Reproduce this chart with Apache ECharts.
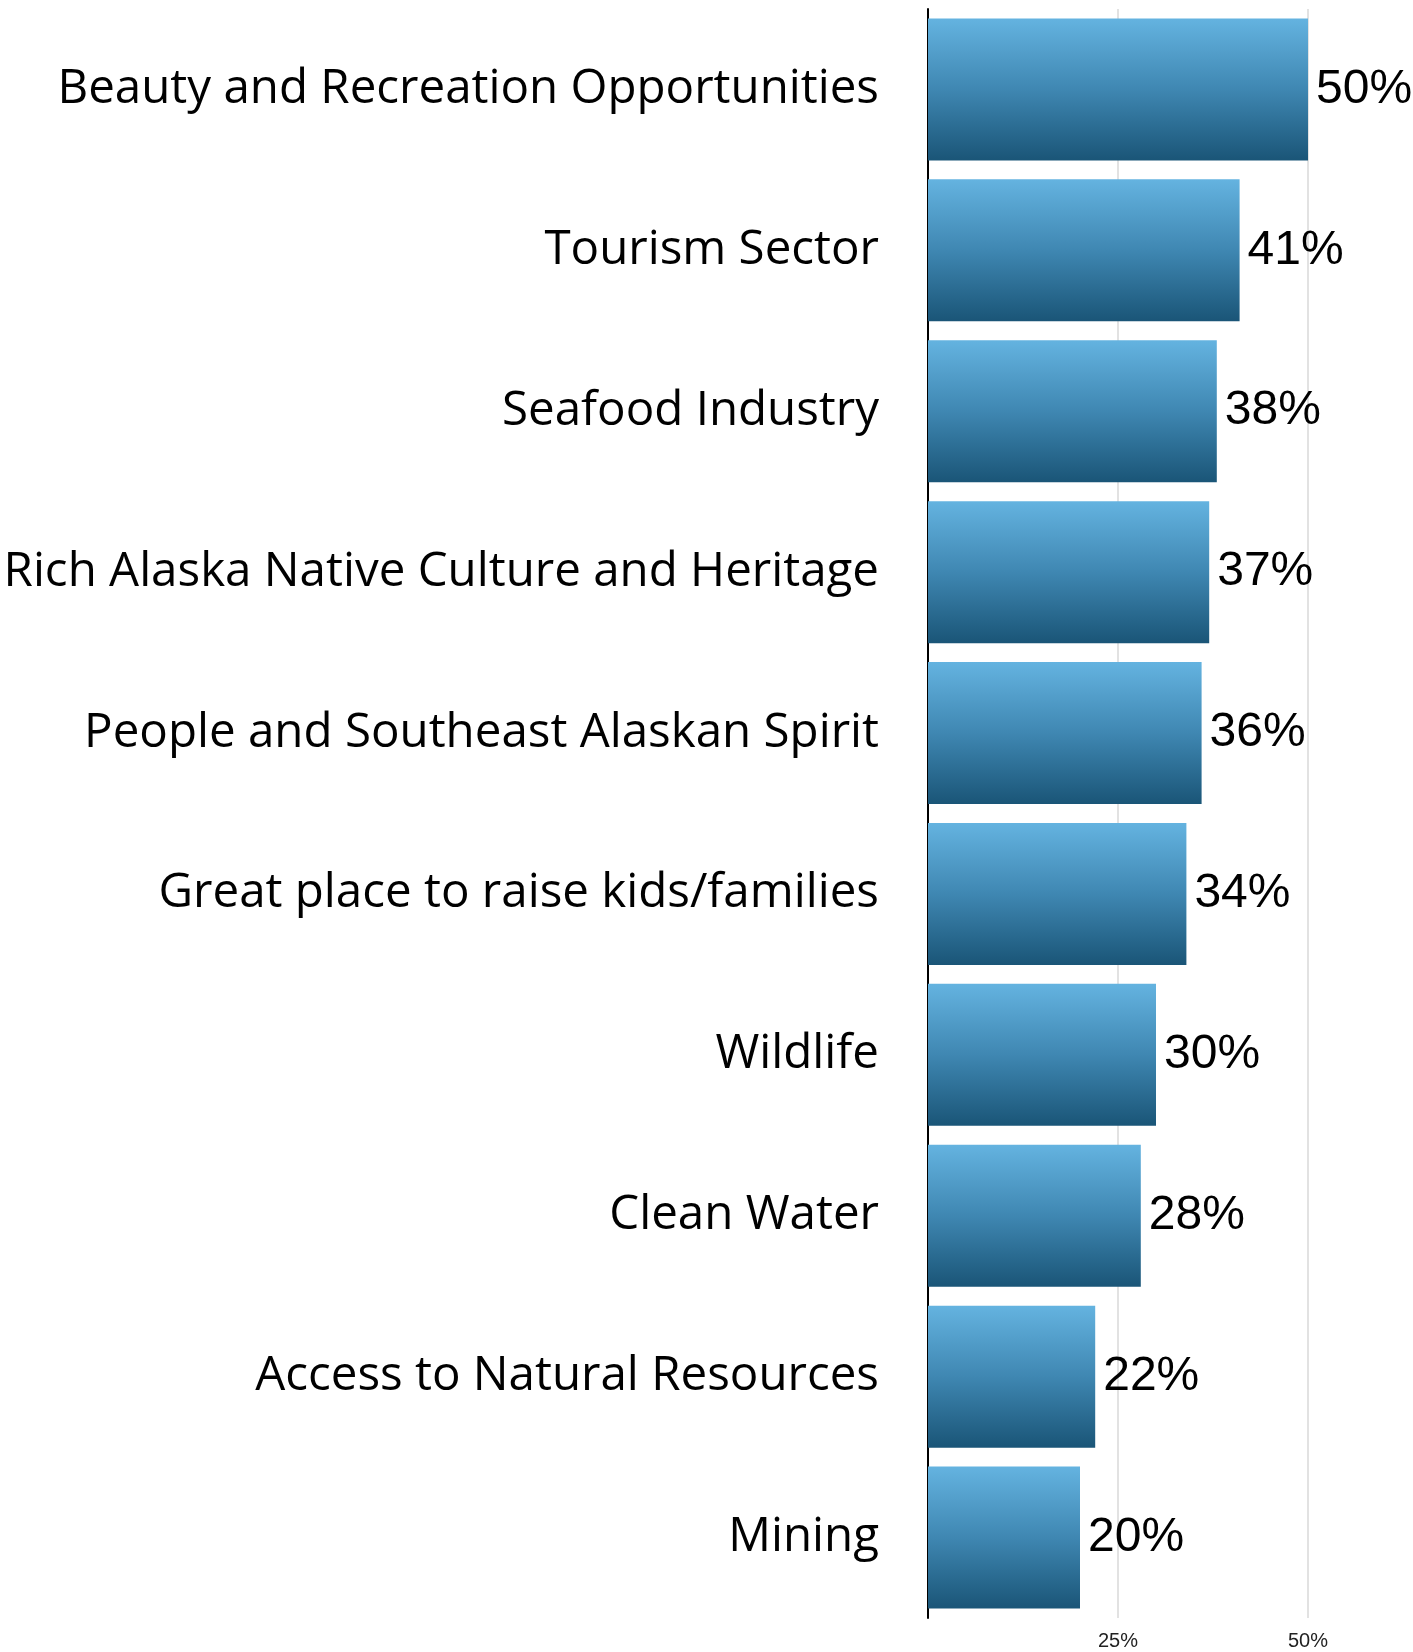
<!DOCTYPE html>
<html>
<head>
<meta charset="utf-8">
<style>
  html, body { margin: 0; padding: 0; background: #ffffff; }
  #chart { width: 1413px; height: 1652px; }
</style>
<script src="https://cdn.jsdelivr.net/npm/echarts@6/dist/echarts.min.js"></script>
</head>
<body>
<div id="chart"></div>
<script>
// Categories, top to bottom
const categories = [
  'Beauty and Recreation Opportunities',
  'Tourism Sector',
  'Seafood Industry',
  'Rich Alaska Native Culture and Heritage',
  'People and Southeast Alaskan Spirit',
  'Great place to raise kids/families',
  'Wildlife',
  'Clean Water',
  'Access to Natural Resources',
  'Mining'
];
// Share of respondents (%)
const shares = [50, 41, 38, 37, 36, 34, 30, 28, 22, 20];
// Value-axis ticks (%)
const tickValues = [25, 50];

const chart = echarts.init(document.getElementById('chart'), null, { renderer: 'canvas' });

const barGradient = new echarts.graphic.LinearGradient(0, 0, 0, 1, [
  { offset: 0, color: '#64b3e0' },
  { offset: 0.5, color: '#3f87b2' },
  { offset: 1, color: '#1a5577' }
]);

chart.setOption({
  animation: false,
  backgroundColor: '#ffffff',
  grid: { left: 928, right: 105, top: 9, bottom: 34, containLabel: false },
  xAxis: {
    type: 'value',
    min: 0,
    max: 50,
    interval: 25,
    axisLine: { show: false },
    axisTick: { show: false },
    splitLine: { show: true, lineStyle: { color: '#d9d9d9', width: 1.5 } },
    axisLabel: {
      show: true,
      margin: 13,
      fontFamily: 'Liberation Sans, Arial, sans-serif',
      fontSize: 20,
      color: '#222222',
      formatter: function (v) { return tickValues.indexOf(v) >= 0 ? v + '%' : ''; }
    }
  },
  yAxis: {
    type: 'category',
    inverse: true,
    data: categories,
    axisLine: { show: true, lineStyle: { color: '#000000', width: 2 } },
    axisTick: { show: false },
    axisLabel: {
      margin: 49,
      fontFamily: '"Open Sans", "Noto Sans", sans-serif',
      fontSize: 47.5,
      color: '#000000'
    }
  },
  series: [{
    type: 'bar',
    data: shares,
    barWidth: 142,
    itemStyle: { color: barGradient },
    label: {
      show: true,
      position: 'right',
      distance: 8,
      fontFamily: 'Liberation Sans, Arial, sans-serif',
      fontSize: 48,
      color: '#000000',
      formatter: function (p) { return p.value + '%'; }
    }
  }]
});
</script>
</body>
</html>
